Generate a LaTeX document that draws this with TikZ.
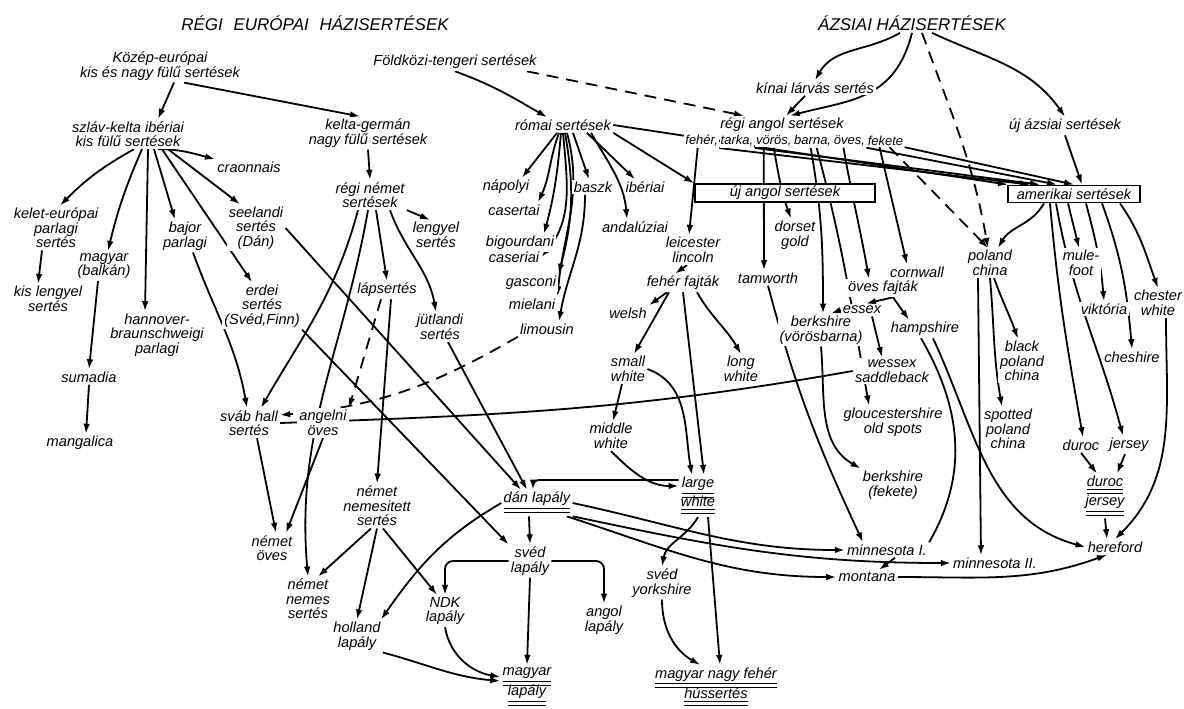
\documentclass[tikz,border=0pt]{standalone}
\usepackage{fontspec}
\setmainfont{Liberation Sans}
\usepackage{tikz}
\usetikzlibrary{positioning, arrows.meta, backgrounds}
\newcommand\lblfont{\fontsize{7.3}{7.3}\selectfont\itshape\lineskiplimit=-8pt\relax}
\newcommand\rowfont{\fontsize{6.5}{7}\selectfont\itshape}
\newcommand\dul[1]{\underline{\underline{#1}}}

\begin{document}
\begin{tikzpicture}[x=0.5pt, y=0.5pt, >={Latex[length=5pt,width=3.3pt]},
  lbl/.style={font=\lblfont, align=center, inner sep=1pt, fill=white},
  wrd/.style={font=\rowfont, inner sep=0.5pt, fill=white},
  ttl/.style={font=\fontsize{8.5}{9}\selectfont\itshape, inner sep=1pt},
  box/.style={lbl, draw, line width=0.9pt, minimum height=8.5pt},
  ln/.style={->, line width=0.9pt},
  dsh/.style={ln, dash pattern=on 6pt off 4pt}]
  \useasboundingbox (0,0) rectangle (1184,-708);

  % titles
  \node[ttl] (teur) at (315,-23) {RÉGI\hspace{3pt} EURÓPAI\hspace{3pt} HÁZISERTÉSEK};
  \node[ttl] (teas) at (912,-23) {ÁZSIAI HÁZISERTÉSEK};

  % european side
  \node[lbl] (kozep) at (160,-66) {Közép-európai\\kis és nagy fülű sertések};
  \node[lbl] (szlav) at (128,-134) {szláv-kelta ibériai\\kis fülű sertések};
  \node[lbl] (keltagerman) at (368,-133) {kelta-germán\\nagy fülű sertések};
  \node[lbl] (craonnais) at (249,-167) {craonnais};
  \node[lbl] (keleteur) at (56,-228) {kelet-európai\\parlagi\\sertés};
  \node[lbl] (magyarbalkan) at (104,-266) {magyar\\(balkán)};
  \node[lbl] (bajor) at (185,-236) {bajor\\parlagi};
  \node[lbl] (seelandi) at (256,-228) {seelandi\\sertés\\(Dán)};
  \node[lbl] (kislengyel) at (48,-299) {kis lengyel\\sertés};
  \node[lbl] (hannover) at (157,-335) {hannover-\\braunschweigi\\parlagi};
  \node[lbl] (erdei) at (262,-306) {erdei\\sertés\\(Svéd,Finn)};
  \node[lbl] (sumadia) at (89,-377) {sumadia};
  \node[lbl] (mangalica) at (80,-443) {mangalica};
  \node[lbl] (svabhall) at (249,-423) {sváb hall\\sertés};
  \node[lbl] (regnemet) at (370,-195) {régi német\\sertések};
  \node[lbl] (lengyel) at (436,-235) {lengyel\\sertés};
  \node[lbl] (lapsertes) at (387,-290) {lápsertés};
  \node[lbl] (jutlandi) at (440,-327) {jütlandi\\sertés};
  \node[lbl] (angelni) at (323,-423) {angelni\\öves};
  \node[lbl] (nemetoves) at (272,-548) {német\\öves};
  \node[lbl] (nemetnemesitett) at (377,-506) {német\\nemesitett\\sertés};
  \node[lbl] (nemetnemes) at (308,-599) {német\\nemes\\sertés};
  \node[lbl] (holland) at (357,-636) {holland\\lapály};
  \node[lbl] (ndk) at (445,-611) {NDK\\lapály};

  % mediterranean
  \node[lbl] (fold) at (455,-62) {Földközi-tengeri sertések};
  \node[lbl] (romai) at (563,-125) {római sertések};
  \node[lbl] (napolyi) at (506,-187) {nápolyi};
  \node[lbl] (casertai) at (514,-210) {casertai};
  \node[lbl] (baszk) at (593,-187) {baszk};
  \node[lbl] (iberiai) at (645,-187) {ibériai};
  \node[lbl] (bigourdani) at (520,-243) {bigourdani};
  \node[lbl] (caseriai) at (514,-257) {caseriai};
  \node[lbl] (andaluziai) at (635,-227) {andalúziai};
  \node[lbl] (gasconi) at (531,-283) {gasconi};
  \node[lbl] (mielani) at (532,-304) {mielani};
  \node[lbl] (limousin) at (547,-329) {limousin};

  % english and asian
  \node[lbl] (kinai) at (815,-88) {kínai lárvás sertés};
  \node[lbl] (regiangol) at (782,-125) {régi angol sertések};
  \node[wrd, anchor=west] (feher) at (684,-141) {fehér,};
  \node[wrd, right=0pt of feher] (tarka) {tarka,};
  \node[wrd, right=0pt of tarka] (voros) {vörös,};
  \node[wrd, right=0pt of voros] (barna) {barna,};
  \node[wrd, right=0pt of barna] (oves) {öves,};
  \node[wrd, right=0pt of oves] (fekete) {fekete};
  \node[lbl] (ujazsiai) at (1065,-126) {új ázsiai sertések};
  \node[box, minimum width=90pt] (ujangol) at (785,-193) {új angol sertések};
  \node[box, minimum width=66pt] (amerikai) at (1074,-194) {amerikai sertések};
  \node[lbl] (dorset) at (795,-235) {dorset\\gold};
  \node[lbl] (leicester) at (693,-250) {leicester\\lincoln};
  \node[lbl] (feherfajtak) at (683,-283) {fehér fajták};
  \node[lbl] (tamworth) at (768,-278) {tamworth};
  \node[lbl] (welsh) at (628,-313) {welsh};
  \node[lbl] (smallwhite) at (628,-369) {small\\white};
  \node[lbl] (longwhite) at (741,-369) {long\\white};
  \node[lbl] (middlewhite) at (611,-436) {middle\\white};
  \node[lbl] (cornwall) at (917,-272) {cornwall};
  \node[lbl] (ovesfajtak) at (883,-288) {öves fajták};
  \node[lbl] (essex) at (862,-310) {essex};
  \node[lbl] (hampshire) at (925,-329) {hampshire};
  \node[lbl] (berkvb) at (821,-330) {berkshire\\(vörösbarna)};
  \node[lbl] (wessex) at (892,-371) {wessex\\saddleback};
  \node[lbl] (gloucester) at (893,-422) {gloucestershire\\old spots};
  \node[lbl] (berkfekete) at (893,-485) {berkshire\\(fekete)};
  \node[lbl] (polandchina) at (990,-263) {poland\\china};
  \node[lbl] (mulefoot) at (1081,-263) {mule-\\foot};
  \node[lbl] (viktoria) at (1104,-309) {viktória};
  \node[lbl] (chesterwhite) at (1158,-303) {chester\\white};
  \node[lbl] (blackpoland) at (1022,-361) {black\\poland\\china};
  \node[lbl] (cheshire) at (1132,-357) {cheshire};
  \node[lbl] (spotted) at (1008,-429) {spotted\\poland\\china};
  \node[lbl] (duroc) at (1081,-445) {duroc};
  \node[lbl] (jersey) at (1129,-445) {jersey};
  \node[lbl] (durocjersey) at (1105,-496) {\dul{duroc}\\[2pt]\dul{jersey}};
  \node[lbl] (hereford) at (1115,-547) {hereford};
  \node[lbl] (minnesota2) at (995,-563) {minnesota II.};
  \node[lbl] (minnesota1) at (887,-550) {minnesota I.};
  \node[lbl] (montana) at (867,-577) {montana};

  % lowland breeds
  \node[lbl] (largewhite) at (698,-496) {\dul{large}\\[2pt]\dul{white}};
  \node[lbl] (danlapaly) at (537,-503) {\dul{dán lapály}};
  \node[lbl] (svedlapaly) at (530,-561) {svéd\\lapály};
  \node[lbl] (magyarlapaly) at (527,-687) {\dul{magyar}\\[3pt]\dul{lapály}};
  \node[lbl] (angollapaly) at (604,-620) {angol\\lapály};
  \node[lbl] (svedyorkshire) at (662,-583) {svéd\\yorkshire};
  \node[lbl] (magyarnagy) at (716,-687) {\dul{magyar nagy fehér}\\[3pt]\dul{hússertés}};

  \begin{scope}[on background layer]
    \draw[ln] ([xshift=7pt]kozep.south) -- ([xshift=15pt]szlav.north);
    \draw[ln] ([xshift=12pt]kozep.south) -- ([xshift=-4pt]keltagerman.north);
    \draw[ln] ([xshift=15pt]szlav.south) to[out=0,in=165] (craonnais.north west);
    \draw[ln] ([xshift=3pt]szlav.south) to[bend right=8] ([xshift=2pt]keleteur.north);
    \draw[ln] ([xshift=7pt]szlav.south) to[bend right=5] ([xshift=2pt]magyarbalkan.north);
    \draw[ln] ([xshift=10pt]szlav.south) -- ([xshift=-6pt]hannover.north);
    \draw[ln] ([xshift=13pt]szlav.south) -- ([xshift=-5pt]bajor.north);
    \draw[ln] ([xshift=17pt]szlav.south) -- ([xshift=-5pt]erdei.north);
    \draw[ln] ([xshift=20pt]szlav.south) -- ([xshift=-8pt]seelandi.north);
    \draw[ln] ([xshift=-7pt]keleteur.south) -- ([xshift=-5pt]kislengyel.north);
    \draw[ln] ([xshift=-3pt]magyarbalkan.south) -- (sumadia.north);
    \draw[ln] (sumadia.south) -- ([xshift=3pt]mangalica.north);
    \draw[ln] (seelandi.east) -- ([xshift=-8pt]danlapaly.north);
    \draw[ln] (erdei.south east) -- (svedlapaly.north west);
    \draw[ln] ([xshift=4pt]bajor.south) to[out=-70,in=100] ([xshift=-1pt]svabhall.north);
    \draw[ln] (keltagerman.south) -- (regnemet.north);
    \draw[ln] (regnemet.south east) -- ([xshift=-3pt]lengyel.north);
    \draw[ln] ([xshift=3pt]regnemet.south) -- (lapsertes.north);
    \draw[ln] ([xshift=10pt]regnemet.south) to[out=-70,in=100] ([xshift=-2pt]jutlandi.north);
    \draw[ln] ([xshift=-6pt]regnemet.south) to[out=-105,in=60] ([xshift=6pt]svabhall.north);
    \draw[ln] ([xshift=-1pt]regnemet.south) to[out=-100,in=95] (nemetnemes.north);
    \draw[ln] ([xshift=2pt]lapsertes.south) -- (nemetnemesitett.north);
    \draw[dsh] ([xshift=-3pt]lapsertes.south) -- (angelni.north east);
    \draw[ln] ([xshift=4pt]jutlandi.south) -- ([xshift=-5pt]danlapaly.north);
    \draw[dsh] (limousin.south west) to[out=-150,in=5] ([yshift=4pt]svabhall.east);
    \draw[line width=0.9pt] (svabhall.east) to[out=2,in=-170] (wessex.west);
    \draw[ln] ([xshift=4pt]svabhall.south) -- ([xshift=2pt]nemetoves.north);
    \draw[ln] (angelni.south) -- ([xshift=7pt]nemetoves.north);
    \draw[ln] ([xshift=-3pt]nemetnemesitett.south) -- ([xshift=5pt]nemetnemes.north);
    \draw[ln] (nemetnemesitett.south) -- (holland.north);
    \draw[ln] ([xshift=3pt]nemetnemesitett.south) -- ([xshift=-4pt]ndk.north);

    \draw[ln] (fold.south) to[out=-20,in=150] ([xshift=-8pt]romai.north);
    \draw[dsh] ([xshift=-6pt]fold.south east) -- ([xshift=-19pt]regiangol.north);
    \draw[ln] ([xshift=-3pt]romai.south) -- ([xshift=8pt]napolyi.north);
    \draw[ln] ([xshift=-2pt]romai.south) to[out=-110,in=65] ([xshift=12pt]casertai.north);
    \draw[ln] ([xshift=-1pt]romai.south) to[out=-95,in=75] ([xshift=12pt]bigourdani.north);
    \draw[ln] (romai.south) to[out=-85,in=50] (caseriai.east);
    \draw[ln] ([xshift=1pt]romai.south) to[out=-80,in=75] (gasconi.north east);
    \draw[ln] ([xshift=2pt]romai.south) to[out=-75,in=85] (mielani.north east);
    \draw[ln] ([xshift=5pt]romai.south) -- ([xshift=-2pt]baszk.north);
    \draw[ln] ([xshift=-4pt]baszk.south) to[out=-90,in=80] ([xshift=6pt]limousin.north);
    \draw[ln] ([xshift=12pt]romai.south) -- ([xshift=-5pt]iberiai.north);
    \draw[ln] ([xshift=14pt]romai.south) to[out=-60,in=95] ([xshift=-4pt]andaluziai.north);
    \draw[ln] (romai.south east) -- (ujangol.north west);
    \draw[ln] (romai.east) -- ([xshift=-33pt]amerikai.north);

    \draw[ln] ([xshift=-6pt]teas.south) to[out=-150,in=60] (kinai.north);
    \draw[ln] (teas.south) .. controls (895,-100) and (850,-100) .. ([xshift=4pt]regiangol.north);
    \draw[ln] ([xshift=-5pt]kinai.south) -- ([xshift=2pt]regiangol.north);
    \draw[ln] ([xshift=10pt]teas.south) to[out=-25,in=125] (ujazsiai.north);
    \draw[dsh] ([xshift=5pt]teas.south) to[out=-70,in=100] ([xshift=-1pt]polandchina.north);
    \draw[dsh] ([xshift=2pt]fekete.south) -- ([xshift=-1pt]polandchina.north);
    \draw[ln] ([xshift=-3pt]fekete.south) -- ([xshift=-5pt]cornwall.north);
    \draw[ln] (feher.south east) -- ([xshift=-22pt]amerikai.north);
    \draw[ln] (tarka.south east) -- ([xshift=-17pt]amerikai.north);
    \draw[ln] (oves.south east) -- ([xshift=-8.5pt]amerikai.north);
    \draw[ln] (fekete.south east) -- (amerikai.north);
    \draw[ln] (ujazsiai.south) -- ([xshift=4pt]amerikai.north);
    \draw[ln] ([xshift=-2pt]feher.south) -- ([xshift=-2pt]leicester.north);
    \draw[ln] ([xshift=-5pt]voros.south) -- ([xshift=-2pt]tamworth.north);
    \draw[ln] (voros.south) to[out=-80,in=110] ([xshift=-2pt]dorset.north);
    \draw[ln] ([xshift=-1pt]barna.south) to[out=-80,in=90] ([xshift=1pt]berkvb.north);
    \draw[ln] ([xshift=2pt]barna.south) to[out=-75,in=100] ([xshift=-12pt]gloucester.north);
    \draw[ln] ([xshift=-3pt]oves.south) to[out=-80,in=100] ([xshift=-7pt]ovesfajtak.north);

    \draw[ln] ([xshift=-3pt]leicester.south) -- ([xshift=-4pt]feherfajtak.north);
    \draw[ln] ([xshift=-8pt]feherfajtak.south) -- (welsh.north east);
    \draw[ln] ([xshift=-7pt]feherfajtak.south) -- ([xshift=3pt]smallwhite.north);
    \draw[ln] ([xshift=7pt]feherfajtak.south) to[out=-60,in=120] (longwhite.north);
    \draw[ln] (feherfajtak.south) -- ([xshift=3pt]largewhite.north);
    \draw[ln] (smallwhite.east) to[out=-20,in=100] ([xshift=-3pt]largewhite.north);
    \draw[ln] ([xshift=-3pt]smallwhite.south) -- ([xshift=1pt]middlewhite.north);
    \draw[ln] (middlewhite.south) to[out=-45,in=180] ([yshift=5pt]largewhite.west);
    \draw[ln, rounded corners=3pt] ([yshift=8pt]largewhite.west) -| ([xshift=-2pt]danlapaly.north);
    \draw[ln] (largewhite.south) to[out=-120,in=80] (svedyorkshire.north);
    \draw[ln] ([xshift=5pt]largewhite.south) -- ([xshift=2pt]magyarnagy.north);
    \draw[ln] (svedyorkshire.south) to[out=-90,in=150] ([xshift=-8pt]magyarnagy.north);

    \draw[ln] ([xshift=-4pt]danlapaly.south) -- (svedlapaly.north);
    \draw[ln] (danlapaly.west) to[out=-150,in=55] ([xshift=12pt]holland.north);
    \draw[ln] (danlapaly.east) to[out=-12,in=180] (minnesota1.west);
    \draw[ln] (danlapaly.south east) to[out=-12,in=180] (minnesota2.west);
    \draw[ln] ([xshift=-3pt]danlapaly.south east) to[out=-18,in=180] (montana.west);
    \draw[ln] ([xshift=4pt]minnesota1.south) -- ([xshift=6pt]montana.north);
    \draw[ln] (montana.east) to[out=0,in=-160] ([xshift=-4pt]hereford.south);
    \draw[ln, rounded corners=4pt] (svedlapaly.west) -| (ndk.north);
    \draw[ln, rounded corners=4pt] (svedlapaly.east) -| (angollapaly.north);
    \draw[ln] (svedlapaly.south) -- (magyarlapaly.north);
    \draw[ln] (ndk.south) to[out=-80,in=170] ([yshift=5pt]magyarlapaly.west);
    \draw[ln] (holland.south east) to[out=-15,in=175] ([yshift=3pt]magyarlapaly.west);

    \draw[ln] ([xshift=-15pt]amerikai.south) to[out=-120,in=60] ([xshift=4pt]polandchina.north);
    \draw[ln] ([xshift=-12pt]amerikai.south) to[out=-85,in=100] ([xshift=1pt]duroc.north);
    \draw[ln] ([xshift=-9pt]amerikai.south) to[out=-80,in=105] ([xshift=-3pt]jersey.north);
    \draw[ln] ([xshift=-3pt]amerikai.south) -- ([xshift=-1pt]mulefoot.north);
    \draw[ln] ([xshift=6pt]amerikai.south) to[out=-75,in=95] (viktoria.north);
    \draw[ln] ([xshift=14pt]amerikai.south) to[out=-70,in=95] (cheshire.north);
    \draw[ln] ([xshift=23pt]amerikai.south) to[out=-55,in=110] (chesterwhite.north);
    \draw[ln] ([xshift=-6pt]polandchina.south) -- ([xshift=-7pt]minnesota2.north);
    \draw[ln] ([xshift=2pt]polandchina.south) to[out=-70,in=110] ([xshift=-2pt]blackpoland.north);
    \draw[ln] (polandchina.south) to[out=-85,in=100] ([xshift=-3pt]spotted.north);
    \draw[ln] (duroc.south) -- ([xshift=-4pt]durocjersey.north);
    \draw[ln] ([xshift=-2pt]jersey.south) -- ([xshift=6pt]durocjersey.north);
    \draw[ln] (durocjersey.south) -- ([xshift=-4pt]hereford.north);
    \draw[ln] ([xshift=4pt]chesterwhite.south) to[out=-90,in=45] (hereford.north);

    \draw[ln] ([xshift=5pt]ovesfajtak.south) -- ([xshift=2pt]essex.north);
    \draw[ln] ([xshift=5pt]ovesfajtak.south) -- ([xshift=-8pt]hampshire.north);
    \draw[ln] (essex.west) -- ([xshift=5pt]berkvb.north);
    \draw[ln] ([xshift=5pt]essex.south) -- ([xshift=-5pt]wessex.north);
    \draw[ln] (berkvb.south) to[out=-85,in=150] (berkfekete.north west);
    \draw[ln] (tamworth.south) to[out=-75,in=115] ([xshift=-12pt]minnesota1.north);
    \draw[line width=0.9pt] ([xshift=-2pt]hampshire.south) to[out=-60,in=60] (minnesota1.north east);
    \draw[ln] ([xshift=4pt]hampshire.south) to[out=-65,in=165] (hereford.west);
  \end{scope}
\end{tikzpicture}
\end{document}
